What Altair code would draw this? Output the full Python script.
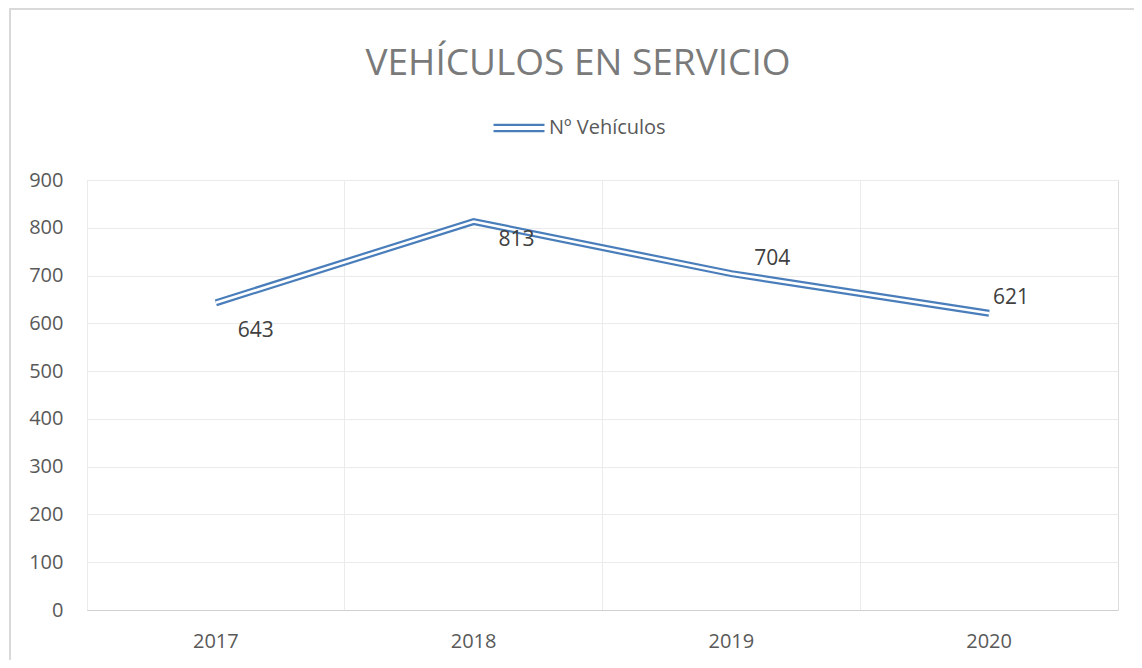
import altair as alt
import pandas as pd

# ---- data ----
years = ["2017", "2018", "2019", "2020"]
vehicles = [643, 813, 704, 621]
series_name = "Nº Vehículos"
y_ticks = [0, 100, 200, 300, 400, 500, 600, 700, 800, 900]
title_text = "VEHÍCULOS EN SERVICIO"

df = pd.DataFrame({"year": years, "value": vehicles, "series": [series_name] * len(years)})

# label offsets (style only)
label_dx = {"2017": 40, "2018": 43, "2019": 41, "2020": 22}
label_dy = {"2017": 28, "2018": 18, "2019": -15, "2020": -15}

W, H = 1031, 430
BLUE = "#4A7EBB"
FONT = "Open Sans"

xscale = alt.Scale(type="band", domain=years, paddingInner=0, paddingOuter=0)

x_enc = alt.X("year:N", sort=years, title=None, scale=xscale,
              axis=alt.Axis(labelAngle=0, labelFontSize=20, labelColor="#595959", labelFont=FONT,
                            labelPadding=21, ticks=False, domainColor="#d0d0d0", domainWidth=1,
                            grid=True, gridColor="#ebebeb", bandPosition=0))
y_enc = alt.Y("value:Q", title=None,
              scale=alt.Scale(domain=[0, 900], nice=False),
              axis=alt.Axis(values=y_ticks, labelFontSize=20, labelColor="#595959", labelFont=FONT,
                            labelPadding=24, ticks=False, domain=False, gridColor="#ebebeb"))

x_plain = alt.X("year:N", sort=years, scale=xscale)

base = alt.Chart(df)

frame = base.mark_rect(fill=None, stroke="#d9d9d9", strokeWidth=2).encode(
    x=alt.value(-77), x2=alt.value(W + 200), y=alt.value(-171), y2=alt.value(H + 200)
).transform_filter(alt.datum.year == years[0])

title = base.mark_text(text=title_text, fontSize=37, font=FONT, color="#7a7a7a",
                       align="center", baseline="alphabetic").encode(
    x=alt.value(491), y=alt.value(-105)
).transform_filter(alt.datum.year == years[0])

outer = base.mark_line(strokeWidth=7, strokeCap="butt", strokeJoin="miter").encode(
    x=x_enc, y=y_enc,
    color=alt.Color("series:N", title=None,
                    scale=alt.Scale(domain=[series_name], range=[BLUE]),
                    legend=alt.Legend(orient="none", legendX=405, legendY=-79,
                                      symbolType="M-1,-0.125H1M-1,0.125H1",
                                      symbolSize=2601, symbolStrokeWidth=2.2,
                                      labelFontSize=20, labelColor="#595959", labelFont=FONT,
                                      labelOffset=3, padding=0))
)
inner = base.mark_line(strokeWidth=2.6, color="white", strokeCap="butt", strokeJoin="miter").encode(
    x=x_plain, y="value:Q"
)

labels = []
for yr in years:
    labels.append(
        base.transform_filter(alt.datum.year == yr).mark_text(
            fontSize=21, font=FONT, color="#404040", align="center", baseline="middle",
            dx=label_dx[yr], dy=label_dy[yr]
        ).encode(x=x_plain, y="value:Q", text="value:Q")
    )

chart = alt.layer(frame, title, outer, inner, *labels).properties(
    width=W, height=H,
    autosize=alt.AutoSizeParams(type="none"),
    padding={"left": 79, "top": 172, "right": 16, "bottom": 50},
).configure_view(stroke="#ebebeb").configure(background="white")

chart.save("out.html", embed_options={"renderer": "svg", "actions": False})
